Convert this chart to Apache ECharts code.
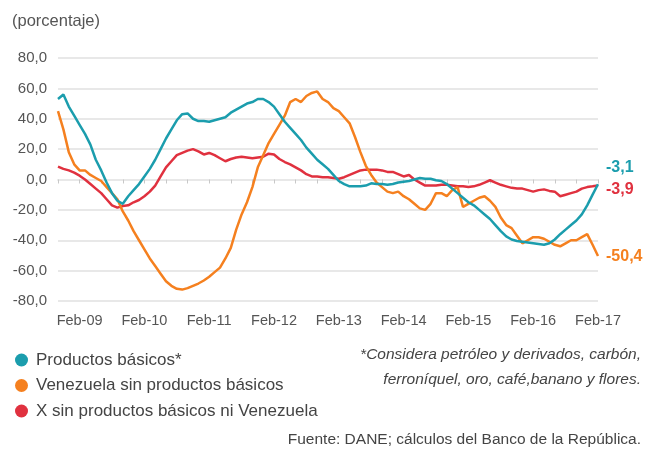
<!DOCTYPE html>
<html>
<head>
<meta charset="utf-8">
<script src="https://cdn.jsdelivr.net/npm/echarts@6/dist/echarts.min.js"></script>
<style>
  html, body { margin: 0; padding: 0; background: #fff; }
  #chart { width: 645px; height: 453px; }
</style>
</head>
<body>
<div id="chart"></div>
<script>
// meses: Oct-08 a Feb-17
const monthNames = ['Ene', 'Feb', 'Mar', 'Abr', 'May', 'Jun', 'Jul', 'Ago', 'Sep', 'Oct', 'Nov', 'Dic']
const months = []
for (let y = 2008, m = 9; y < 2017 || m <= 1; m++) {
  if (m > 11) { m = 0; y++ }
  months.push(monthNames[m] + '-' + String(y).slice(2))
  if (y === 2017 && m === 1) break
}

const yTicks = [-80, -60, -40, -20, 0, 20, 40, 60, 80]

const productosBasicos = [
  53, 56, 48, 42, 36, 30, 23, 13, 6, -2,
  -9, -14, -16, -11, -7, -3, 2, 7, 13, 20,
  27, 33, 39, 43, 43.5, 40, 38.5, 38.5, 38, 39,
  40, 41, 44, 46, 48, 50, 51, 53, 53, 51,
  48, 43, 38, 34, 30, 26, 21, 17, 13, 10,
  7, 3, -1, -3, -4.5, -4.5, -4.5, -4, -2.5, -3,
  -3, -3.5, -3, -2, -1.5, -1, 0, 1, 0.5, 0.5,
  -0.5, -1, -3, -6, -9, -12, -15, -17, -20, -23,
  -26, -30, -34, -37.5, -39.5, -40.5, -41, -41.5, -42, -42.5,
  -43, -42, -39.5, -36, -33, -30, -27, -23, -17, -10,
  -3.1
]

const venezuela = [
  45, 33, 18, 10, 6, 6, 3, 1, -1, -5,
  -9, -13, -21, -27, -34, -40, -46, -52, -57, -62,
  -67, -70, -72, -72.5, -71.5, -70, -68.5, -66.5, -64, -61,
  -58, -52, -45, -33, -23, -15, -5, 8, 16, 24,
  30, 36, 42, 51, 53, 51, 55, 57, 58, 53,
  51, 47, 45, 41, 37, 28, 18, 9, 3, -2,
  -5, -8, -9, -8, -11, -13, -16, -19, -20, -16,
  -9, -9, -11, -7, -5, -18, -16, -14, -12, -11,
  -14, -18, -25, -30, -32, -37, -42, -40, -38, -38,
  -39, -41, -43, -44, -42, -40, -40, -38, -36, -43,
  -50.4
]

const xSinBasicos = [
  8.5, 7, 6, 4.5, 2.5, 0, -3, -6, -9, -13,
  -17, -18.5, -17.5, -17, -15, -13.5, -11, -8, -4, 2,
  8, 12, 16, 17.5, 19, 20, 18.5, 16.5, 17.5, 16,
  14, 12, 13.5, 14.5, 15, 14.5, 14, 14.5, 15, 17,
  16.5, 13.5, 11.5, 10, 8, 6, 3.5, 2, 2, 1.5,
  1.5, 1, 0.5, 1.5, 3, 4.5, 6, 6.5, 6.5, 6.5,
  6, 5, 5, 3.5, 2, 3, 0, -2, -4, -4,
  -4, -3.5, -3.5, -4, -4.5, -4.5, -5, -4.5, -3.5, -2,
  -0.5, -2, -3.5, -4.5, -5.5, -6, -6, -7, -8, -7,
  -6.5, -7.5, -8, -11, -10, -9, -8, -6, -5, -4.5,
  -3.9
]

const seriesNames = ['Productos básicos*', 'Venezuela sin productos básicos', 'X sin productos básicos ni Venezuela']
const colors = ['#1b9dad', '#f5801f', '#e0313f']
const endOffsets = [[0, -17], [0, 1], [0, 4]]

const FONT = "'Liberation Sans', Arial, sans-serif"
const fmt = (v) => Number(v).toFixed(1).replace('.', ',')

const chart = echarts.init(document.getElementById('chart'))

const makeSeries = (name, data, i) => ({
  name: name,
  type: 'line',
  data: data,
  symbol: 'none',
  lineStyle: { width: 2.5, color: colors[i] },
  itemStyle: { color: colors[i] },
  endLabel: {
    show: true,
    formatter: (p) => fmt(p.value),
    color: colors[i],
    fontFamily: FONT,
    fontSize: 16,
    fontWeight: 'bold',
    distance: 8,
    offset: endOffsets[i]
  },
  z: 3 - i
})

chart.setOption({
  animation: false,
  grid: { left: 58, right: 47, top: 58, bottom: 152 },
  graphic: [
    { type: 'text', left: 12, top: 13, style: { text: '(porcentaje)', font: '16.5px ' + FONT, fill: '#555' } },
    { type: 'text', right: 4, top: 347, style: { text: '*Considera petróleo y derivados, carbón,', font: 'italic 15.5px ' + FONT, fill: '#444', textAlign: 'right' } },
    { type: 'text', right: 4, top: 372, style: { text: 'ferroníquel, oro, café,banano y flores.', font: 'italic 15.5px ' + FONT, fill: '#444', textAlign: 'right' } },
    { type: 'text', right: 4, top: 432, style: { text: 'Fuente: DANE; cálculos del Banco de la República.', font: '15.5px ' + FONT, fill: '#444', textAlign: 'right' } }
  ],
  legend: {
    orient: 'vertical',
    left: 10,
    top: 345,
    icon: 'circle',
    itemWidth: 13,
    itemHeight: 13,
    itemGap: 5.5,
    data: seriesNames,
    textStyle: { fontFamily: FONT, fontSize: 17, color: '#444', lineHeight: 20, padding: [0, 0, 0, 3] }
  },
  xAxis: [
    {
      type: 'category',
      data: months,
      boundaryGap: false,
      axisLine: { show: false, onZero: false },
      axisTick: { show: false },
      axisLabel: {
        interval: (i, v) => v.startsWith('Feb'),
        color: '#555',
        fontFamily: FONT,
        fontSize: 14.5,
        margin: 12
      }
    },
    {
      type: 'category',
      data: months,
      boundaryGap: false,
      position: 'bottom',
      axisLine: { show: true, onZero: true, lineStyle: { color: '#e8e8e8', width: 2 } },
      axisTick: { show: true, interval: (i) => i % 4 === 0, length: 4, lineStyle: { color: '#c8c8c8' } },
      axisLabel: { show: false }
    }
  ],
  yAxis: {
    type: 'value',
    min: yTicks[0],
    max: yTicks[yTicks.length - 1],
    interval: 20,
    axisLine: { show: false },
    axisTick: { show: false },
    splitLine: { lineStyle: { color: '#e8e8e8', width: 2 } },
    axisLabel: {
      formatter: fmt,
      color: '#555',
      fontFamily: FONT,
      fontSize: 15,
      margin: 11
    }
  },
  series: [
    makeSeries(seriesNames[0], productosBasicos, 0),
    makeSeries(seriesNames[1], venezuela, 1),
    makeSeries(seriesNames[2], xSinBasicos, 2)
  ]
})
</script>
</body>
</html>
